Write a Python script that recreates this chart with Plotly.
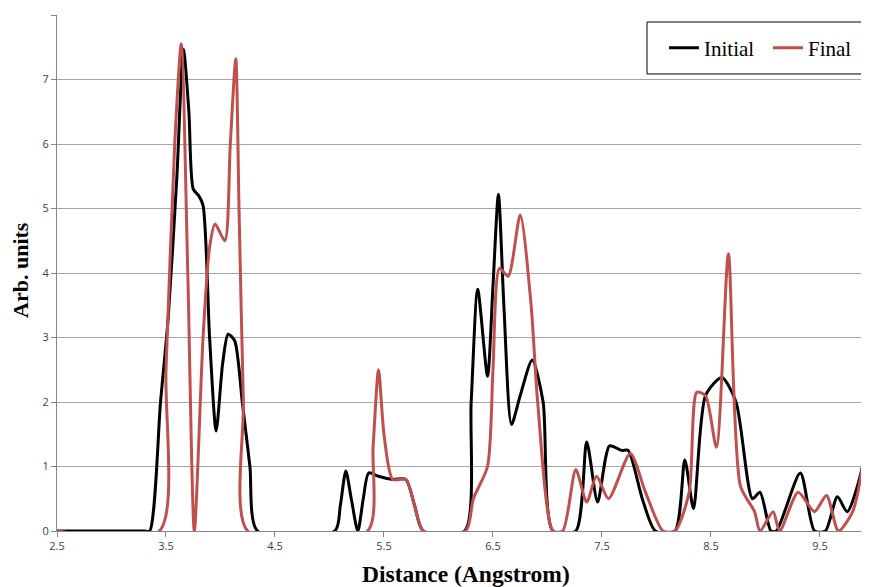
import plotly.graph_objects as go

initial_x = [2.5, 3.3, 3.35, 3.45, 3.52, 3.6, 3.66, 3.71, 3.75, 3.8, 3.84, 3.9, 3.96, 4.02, 4.07, 4.13, 4.2, 4.27, 4.34,
             5.05, 5.1, 5.15, 5.2, 5.26, 5.31, 5.36, 5.45, 5.58, 5.7, 5.78, 5.86,
             6.24, 6.3, 6.36, 6.45, 6.5, 6.55, 6.6, 6.67, 6.75, 6.86, 6.96, 7.05,
             7.26, 7.36, 7.46, 7.57, 7.68, 7.74, 7.87, 7.99,
             8.17, 8.26, 8.34, 8.45, 8.6, 8.73, 8.88, 8.95, 9.05, 9.1, 9.32, 9.45, 9.55, 9.66, 9.75, 9.89, 9.95, 10.0]
initial_y = [0, 0, 0, 2.0, 3.3, 5.5, 7.47, 6.5, 5.3, 5.2, 5.05, 3.0, 1.55, 2.6, 3.05, 2.95, 2.0, 1.0, 0,
             0, 0.4, 0.93, 0.5, 0.0, 0.5, 0.9, 0.85, 0.8, 0.8, 0.4, 0,
             0, 2.0, 3.75, 2.4, 3.8, 5.22, 3.5, 1.65, 2.1, 2.65, 2.0, 0,
             0, 1.38, 0.45, 1.32, 1.25, 1.25, 0.5, 0,
             0, 1.1, 0.35, 2.1, 2.38, 2.0, 0.5, 0.6, 0, 0, 0.9, 0, 0, 0.53, 0.3, 1.0, 2.0, 2.6]

final_x = [2.5, 3.44, 3.5, 3.58, 3.64, 3.7, 3.76, 3.84, 3.9, 3.95, 4.04, 4.09, 4.14, 4.17, 4.21, 4.25,
           5.35, 5.4, 5.45, 5.5, 5.58, 5.7, 5.78, 5.86,
           6.25, 6.32, 6.45, 6.5, 6.56, 6.64, 6.75, 6.85, 6.91, 7.05,
           7.14, 7.26, 7.36, 7.45, 7.56, 7.76, 7.9, 8.06,
           8.17, 8.3, 8.37, 8.45, 8.55, 8.66, 8.77, 8.9, 8.95, 9.07, 9.13, 9.3, 9.45, 9.56, 9.67, 9.8, 9.89, 9.95, 10.0]
final_y = [0, 0, 2.5, 6.0, 7.55, 4.0, 0, 3.0, 4.4, 4.76, 4.5, 6.0, 7.32, 5.0, 2.0, 0,
           0, 1.3, 2.5, 1.5, 0.8, 0.8, 0.4, 0,
           0, 0.5, 1.0, 2.5, 4.07, 3.95, 4.9, 3.5, 2.0, 0,
           0, 0.95, 0.45, 0.85, 0.5, 1.2, 0.6, 0,
           0, 0.6, 2.15, 2.1, 1.3, 4.3, 0.7, 0.3, 0, 0.3, 0, 0.6, 0.3, 0.55, 0, 0.3, 1.0, 2.0, 2.6]

x_ticks = [2.5, 3.5, 4.5, 5.5, 6.5, 7.5, 8.5, 9.5]
y_ticks = [0, 1, 2, 3, 4, 5, 6, 7, 8]

fig = go.Figure()
fig.add_trace(go.Scatter(x=initial_x, y=initial_y, mode="lines", name="Initial",
                         line=dict(color="#000000", width=3, shape="spline", smoothing=0.7)))
fig.add_trace(go.Scatter(x=final_x, y=final_y, mode="lines", name="Final",
                         line=dict(color="#C0504D", width=3, shape="spline", smoothing=0.7)))

# page body has a default 8px margin, so the figure is sized/offset to compensate
fig.update_layout(
    width=861, height=579,
    margin=dict(l=49, r=0, t=7, b=56, autoexpand=False),
    paper_bgcolor="white", plot_bgcolor="white",
    font=dict(family="Liberation Serif"),
    legend=dict(orientation="h", x=0.7475, xanchor="left", y=0.936, yanchor="middle",
                borderwidth=0, bgcolor="rgba(0,0,0,0)",
                font=dict(family="Liberation Serif", size=21, color="black"),
                itemwidth=30, entrywidthmode="pixels", entrywidth=59),
    showlegend=True,
    shapes=[dict(type="rect", xref="paper", yref="paper", x0=0.7266, x1=0.9938, y0=0.8857, y1=0.9864,
                 line=dict(color="black", width=1), fillcolor="white", layer="below")],
    annotations=[
        dict(text="<b>Distance (Angstrom)</b>", xref="paper", yref="paper", x=0.5043, y=-0.0835,
             xanchor="center", yanchor="middle", showarrow=False,
             font=dict(family="Liberation Serif", size=23.5, color="black")),
        dict(text="<b>Arb. units</b>", xref="paper", yref="paper", x=-0.0456, y=0.5058,
             xanchor="center", yanchor="middle", showarrow=False, textangle=-90,
             font=dict(family="Liberation Serif", size=22, color="black")),
    ],
)
fig.update_xaxes(range=[2.5, 9.95], tickvals=x_ticks, ticktext=[str(v) for v in x_ticks],
                 automargin=False,
                 showgrid=False, zeroline=False, showline=True, linecolor="#868686", linewidth=1,
                 ticks="outside", ticklen=5, tickcolor="#868686",
                 tickfont=dict(family="Open Sans", size=11, color="#404040"))
fig.update_yaxes(range=[0, 8], tickvals=y_ticks, automargin=False,
                 showgrid=True, gridcolor="#A6A6A6", gridwidth=1, zeroline=False,
                 showline=True, linecolor="#868686", linewidth=1,
                 ticks="outside", ticklen=5, tickcolor="#868686",
                 tickfont=dict(family="Open Sans", size=11, color="#404040"))

fig.write_html("out.html")
